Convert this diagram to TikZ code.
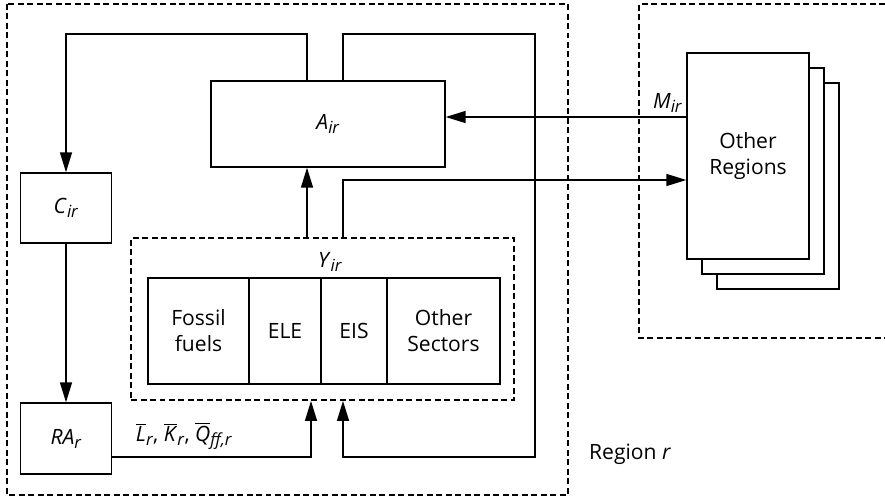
\documentclass[tikz,border=0pt]{standalone}
\usepackage{fontspec}
\setmainfont{Open Sans}
\usetikzlibrary{arrows.meta}

\newcommand{\sbs}[1]{\raisebox{-0.35ex}{\fontsize{9.5}{10}\selectfont\textit{#1}}}
\newcommand{\var}[2]{\textit{#1}\sbs{#2}}
\newcommand{\bvar}[2]{$\overline{\mbox{\textit{#1}}}$\sbs{#2}}

\tikzset{
  box/.style={draw, line width=0.8pt, align=center, inner sep=0pt},
  arr/.style={line width=0.8pt, -{Triangle[length=0.4cm,width=0.24cm]}},
  reg/.style={line width=1.1pt, dash pattern=on 3.4pt off 2pt},
}

\begin{document}
\begin{tikzpicture}[x=0.02cm, y=-0.02cm, font=\fontsize{12}{14.8}\selectfont]
    \useasboundingbox (0,0) rectangle (885,496);
    % region frames
    \draw[reg] (7,4) rectangle (568,495);
    \draw[reg] (885,4) -- (639,4) -- (639,338) -- (885,338);
    \node[anchor=west] (regr) at (583,454) {Region \textit{r}};

    % blocks of region r
    \node[box, minimum width=4.68cm, minimum height=1.72cm] (A) at (328,124) {\var{A}{ir}};
    \node[box, minimum width=1.82cm, minimum height=1.40cm] (C) at (66,208) {\var{C}{ir}};
    \node[box, minimum width=1.82cm, minimum height=1.42cm] (RA) at (66,438.5) {\var{RA}{r}};

    % production
    \node[box, reg, minimum width=7.66cm, minimum height=3.24cm] (Ybox) at (322.5,319) {};
    \node (Ylab) at (330,262) {\var{Y}{ir}};
    \node[box, minimum width=2.02cm, minimum height=2.12cm] (fos) at (198.5,331) {Fossil\\fuels};
    \node[box, minimum width=1.44cm, minimum height=2.12cm] (ele) at (285,331) {ELE};
    \node[box, minimum width=1.32cm, minimum height=2.12cm] (eis) at (354,331) {EIS};
    \node[box, minimum width=2.26cm, minimum height=2.12cm] (oth) at (443.5,331) {Other\\Sectors};

    % other regions
    \node[box, fill=white, minimum width=2.44cm, minimum height=4.12cm] (or3) at (778,186) {};
    \node[box, fill=white, minimum width=2.44cm, minimum height=4.12cm] (or2) at (763,171) {};
    \node[box, fill=white, minimum width=2.44cm, minimum height=4.12cm] (or1) at (748,156) {Other\\Regions};

    % helpers
    \coordinate (xl) at (307,0);
    \coordinate (xa) at (311,0);
    \coordinate (xr) at (343,0);
    \coordinate (loop) at (535,34);
    \coordinate (bot) at (0,457);

    % flows
    \draw[arr] (Ybox.north -| xl) -- (A.south -| xl);
    \draw[arr] (A.north -| xl) |- (loop -| C.north) -- (C.north);
    \draw[arr] (A.north -| xr) |- (loop) |- (bot -| xr) -- (Ybox.south -| xr);
    \draw[arr] (C.south) -- (RA.north);
    \draw[arr] (RA.east |- bot) -| (Ybox.south -| xa);
    \node (endow) at (184,436) {\bvar{L}{r}, \bvar{K}{r}, \bvar{Q}{ff,r}};
    \draw[arr] (Ybox.north -| xr) |- ([yshift=-0.48cm]or1.west);
    \draw[arr] ([yshift=0.78cm]or1.west) -- ([yshift=0.78cm]or1.west -| A.east)
        node[pos=0, above left, inner sep=2pt] (mir) {\var{M}{ir}};
\end{tikzpicture}
\end{document}
